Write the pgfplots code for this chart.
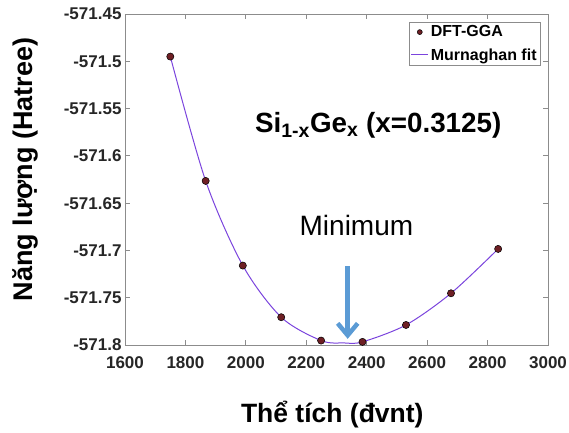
\documentclass[border=0pt]{standalone}
\usepackage{pgfplots}
\pgfplotsset{compat=1.18}
\usepackage{fontspec}
\setmainfont{Liberation Sans}
\usetikzlibrary{arrows.meta}
\definecolor{fitcol}{HTML}{7B44DD}
\definecolor{ptfill}{HTML}{6E1F24}
\definecolor{arrowblue}{HTML}{5B9BD5}
\definecolor{axgray}{HTML}{8C8C8C}
\begin{document}
\begin{tikzpicture}
\begin{axis}[
  scale only axis,
  width=423pt, height=331pt,
  xmin=1600, xmax=3000,
  ymin=-571.8, ymax=-571.45,
  axis line style={axgray, line width=0.8pt},
  every tick/.style={axgray, line width=0.8pt},
  tick align=inside,
  major tick length=5pt,
  xtick={1600,1800,2000,2200,2400,2600,2800,3000},
  xticklabels={1600,1800,2000,2200,2400,2600,2800,3000},
  ytick={-571.8,-571.75,-571.7,-571.65,-571.6,-571.55,-571.5,-571.45},
  yticklabels={-571.8,-571.75,-571.7,-571.65,-571.6,-571.55,-571.5,-571.45},
  ticklabel style={font=\bfseries\fontsize{17}{20}\selectfont, text=black!85},
  xticklabel style={yshift=-8pt},
  xlabel={Thể tích (đvnt)},
  ylabel={Năng lượng (Hatree)},
  every axis x label/.style={at={(rel axis cs:0.49,0)}, anchor=base, yshift=-77pt, font=\bfseries\fontsize{26.5}{30}\selectfont},
  every axis y label/.style={at={(rel axis cs:0,0.53)}, xshift=-100pt, anchor=center, rotate=90, font=\bfseries\fontsize{27}{30}\selectfont},
  legend style={at={(rel axis cs:0.982,0.976)}, anchor=north east, draw=axgray, line width=0.6pt,
    font=\bfseries\fontsize{16}{18}\selectfont, inner sep=1.5pt, row sep=6pt, cells={anchor=west}},
  legend cell align=left,
  clip=false,
]
\coordinate (SW) at (rel axis cs:0,0);
\addplot[only marks, mark=*, mark size=3.6pt, mark options={fill=ptfill, draw=black, line width=0.5pt},
  legend image post style={mark size=2.5pt}]
  coordinates {
  (1750,-571.495) (1867,-571.6265) (1990,-571.716) (2117,-571.7706)
  (2249,-571.7953) (2386,-571.7967) (2530,-571.7788) (2679,-571.7453) (2835,-571.6984)
  };
\addlegendentry{DFT-GGA}
\addplot[fitcol, line width=1pt, smooth, tension=0.5]
  coordinates {
  (1750,-571.495) (1867,-571.6265) (1990,-571.716) (2117,-571.7706)
  (2249,-571.7953) (2325,-571.7978) (2386,-571.7967) (2530,-571.7788) (2679,-571.7453) (2835,-571.6984)
  };
\addlegendentry{Murnaghan fit}
\node[font=\bfseries\fontsize{27.8}{30}\selectfont, anchor=base west, inner sep=0pt] at (axis cs:2030,-571.5758) {Si\textsubscript{1-x}Ge\textsubscript{x} (x=0.3125)};
\node[font=\fontsize{28}{30}\selectfont, anchor=base, inner sep=0pt] at (axis cs:2366,-571.6845) {Minimum};
\draw[arrowblue, line width=4.5pt, -{Straight Barb[length=12pt, width=20pt, line width=4.5pt]}] (axis cs:2337,-571.7165) -- (axis cs:2337,-571.7935);
\end{axis}
\pgfresetboundingbox
\path (SW) ++(-125pt,-87pt) rectangle ++(569pt,432pt);
\end{tikzpicture}
\end{document}
